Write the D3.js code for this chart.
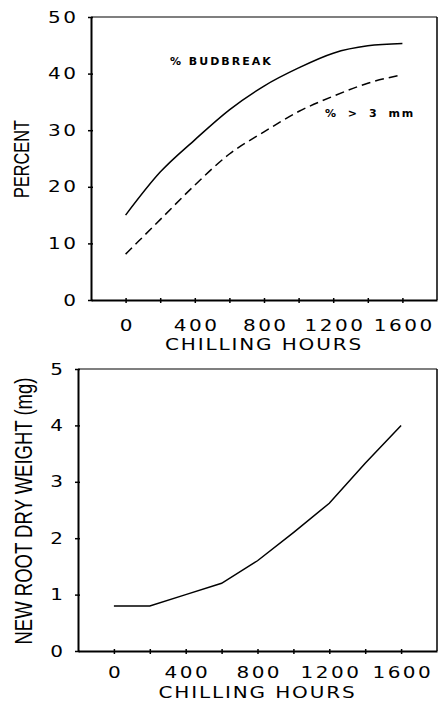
<!DOCTYPE html>
<html>
<head>
<meta charset="utf-8">
<script src="https://cdnjs.cloudflare.com/ajax/libs/d3/7.8.5/d3.min.js"></script>
<style>
  body { margin: 0; background: #fff; }
  text { fill: #000; }
  .tickfont { font-family: "DejaVu Sans", sans-serif; font-size: 16px; letter-spacing: 2px; }
  .ylab { font-family: "Liberation Sans Narrow", "Liberation Sans", sans-serif; font-size: 22px; }
  .note { font-family: "DejaVu Sans", sans-serif; font-size: 11px; font-weight: bold; letter-spacing: 2px; }
</style>
</head>
<body>
<script>
let hours = [0,200,400,600,800,1000,1200,1400,1600];
let budbreak = [15,22.6,28.3,33.6,37.8,41.0,43.6,44.9,45.3];
let over3mm = [8.1,14.2,20.3,25.8,29.7,33.3,36.0,38.3,39.8];
let rootWeight = [0.8,0.8,1.0,1.2,1.6,2.1,2.62,3.33,4.0];

let xTickValues = [0,200,400,600,800,1000,1200,1400,1600];
let xTickLabels = ["0","400","800","1200","1600"];
let percentTicks = [0,10,20,30,40,50];
let weightTicks = [0,1,2,3,4,5];

let svg = d3.select("body").append("svg").attr("width",438).attr("height",702);

// scale(1.25,1) widens the glyphs toward the round face of the original
let sx = 1.25;

function drawPanel(xs, ys, yTicks, yLabel, yLabelPos, xPad, titleY){
  let xr = xs.range(), yr = ys.range();
  let g = svg.append("g");

  let xAxis = d3.axisBottom(xs).tickValues(xTickValues).tickSize(3).tickSizeOuter(0)
                .tickPadding(xPad)
                .tickFormat(d => xTickLabels.includes(String(d)) ? String(d) : "");
  let yAxis = d3.axisLeft(ys).tickValues(yTicks).tickSize(3).tickSizeOuter(0)
                .tickFormat(d3.format("d"));

  let gx = g.append("g").attr("transform","translate(0,"+yr[0]+")").call(xAxis);
  let gy = g.append("g").attr("transform","translate("+xr[0]+",0)").call(yAxis);

  [gx,gy].forEach(a => {
    a.attr("font-family",null).attr("font-size",null);
    a.select(".domain").attr("stroke","#000").attr("stroke-width",2);
    a.selectAll(".tick line").attr("stroke","#000").attr("stroke-width",1.5);
    a.selectAll("text").attr("class","tickfont").attr("fill","#000");
  });
  gx.selectAll(".tick line").attr("y1",-2);
  gy.selectAll(".tick line").attr("x1",2);
  gx.selectAll("text").attr("x",1).attr("transform","scale("+sx+",1)");
  gy.selectAll("text").attr("x",-10).attr("transform","scale("+sx+",1)");

  // thin top and right sides of the frame
  g.append("line").attr("x1",xr[0]).attr("x2",xr[1]).attr("y1",yr[1]).attr("y2",yr[1])
   .attr("stroke","#000").attr("stroke-width",1.2);
  g.append("line").attr("x1",xr[1]).attr("x2",xr[1]).attr("y1",yr[1]).attr("y2",yr[0])
   .attr("stroke","#000").attr("stroke-width",1.5);

  g.append("text").attr("class","tickfont")
   .attr("transform","translate("+((xr[0]+xr[1])/2)+","+titleY+") scale("+sx+",1)")
   .attr("text-anchor","middle").style("letter-spacing","1.5px")
   .text("CHILLING HOURS");

  g.append("text").attr("class","ylab")
   .attr("transform","translate("+yLabelPos[0]+","+yLabelPos[1]+") rotate(-90)")
   .attr("text-anchor","middle").style("font-size",yLabelPos[3]+"px")
   .attr("textLength",yLabelPos[2]).attr("lengthAdjust","spacingAndGlyphs")
   .text(yLabel);

  return g;
}

// top panel
let x1 = d3.scaleLinear().domain([-200,1800]).range([91,437]);
let y1 = d3.scaleLinear().domain([0,50]).range([300,17]);
let topPanel = drawPanel(x1, y1, percentTicks, "PERCENT", [29,159,78,22], 17, 350);

let line1 = d3.line().x((d,i)=>x1(hours[i])).y(d=>y1(d)).curve(d3.curveMonotoneX);
topPanel.append("path").attr("d",line1(budbreak))
   .attr("fill","none").attr("stroke","#000").attr("stroke-width",1.5);
topPanel.append("path").attr("d",line1(over3mm))
   .attr("fill","none").attr("stroke","#000").attr("stroke-width",1.5)
   .attr("stroke-dasharray","9,5");

topPanel.append("text").attr("class","note").attr("x",170).attr("y",65).text("% BUDBREAK");
topPanel.append("text").attr("class","note").attr("x",325).attr("y",117)
   .style("word-spacing","4px").text("% > 3 mm");

// bottom panel
let x2 = d3.scaleLinear().domain([-200,1800]).range([78,437]);
let y2 = d3.scaleLinear().domain([0,5]).range([651,369]);
let bottomPanel = drawPanel(x2, y2, weightTicks, "NEW ROOT DRY WEIGHT (mg)", [32,511,267,23], 13, 698);

let line2 = d3.line().x((d,i)=>x2(hours[i])).y(d=>y2(d));
bottomPanel.append("path").attr("d",line2(rootWeight))
   .attr("fill","none").attr("stroke","#000").attr("stroke-width",1.5);
</script>
</body>
</html>
